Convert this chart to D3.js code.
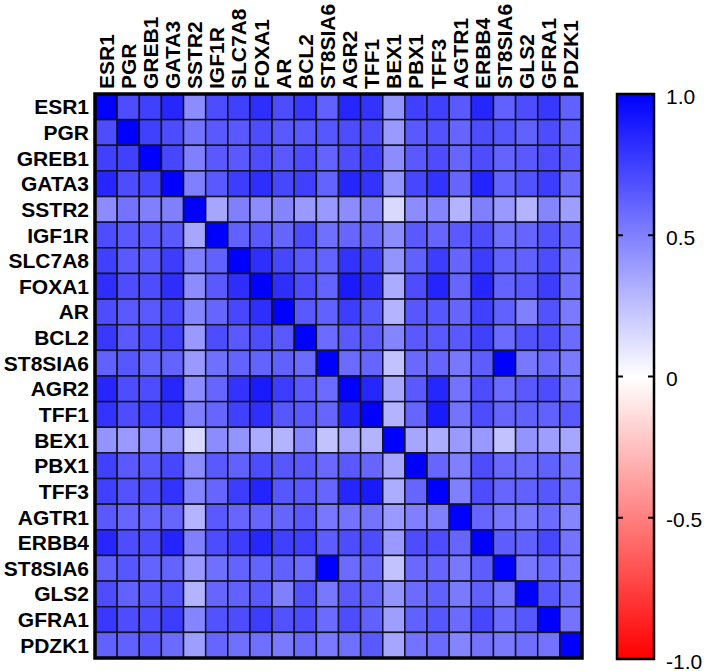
<!DOCTYPE html>
<html>
<head>
<meta charset="utf-8">
<script src="https://cdn.jsdelivr.net/npm/d3@7"></script>
<style>
  html, body { margin: 0; padding: 0; background: #fff; }
  svg { display: block; }
  text { font-family: "Liberation Sans", Arial, sans-serif; fill: #000; }
</style>
</head>
<body>
<svg id="chart" width="709" height="671"></svg>
<script>
const genes = ["ESR1","PGR","GREB1","GATA3","SSTR2","IGF1R","SLC7A8","FOXA1","AR","BCL2","ST8SIA6","AGR2","TFF1","BEX1","PBX1","TFF3","AGTR1","ERBB4","ST8SIA6","GLS2","GFRA1","PDZK1"];

const values = [
  [1, .70, .75, .85, .45, .70, .75, .82, .70, .78, .62, .85, .80, .42, .75, .75, .65, .85, .62, .70, .78, .62],
  [.70, 1, .75, .70, .55, .65, .65, .70, .65, .65, .66, .70, .70, .40, .65, .68, .60, .70, .66, .62, .70, .62],
  [.75, .75, 1, .72, .50, .65, .65, .70, .65, .70, .61, .70, .75, .45, .65, .70, .60, .70, .61, .65, .70, .65],
  [.85, .70, .72, 1, .50, .65, .76, .82, .72, .75, .61, .85, .80, .42, .72, .80, .60, .86, .61, .68, .76, .58],
  [.45, .55, .50, .50, 1, .35, .50, .45, .48, .40, .40, .45, .50, .15, .45, .48, .30, .50, .40, .30, .48, .38],
  [.70, .65, .65, .65, .35, 1, .62, .65, .60, .70, .56, .60, .60, .45, .65, .60, .65, .70, .56, .60, .68, .60],
  [.75, .65, .65, .76, .50, .62, 1, .82, .72, .65, .61, .80, .75, .42, .62, .76, .60, .76, .61, .62, .70, .56],
  [.82, .70, .70, .82, .45, .65, .82, 1, .82, .70, .61, .90, .82, .33, .70, .86, .60, .85, .61, .65, .76, .56],
  [.70, .65, .65, .72, .48, .60, .72, .82, 1, .65, .62, .76, .66, .30, .66, .66, .60, .75, .62, .50, .68, .52],
  [.78, .65, .70, .75, .40, .70, .65, .70, .65, 1, .58, .65, .65, .48, .65, .65, .65, .75, .58, .68, .70, .58],
  [.62, .66, .61, .61, .40, .56, .61, .61, .62, .58, 1, .58, .60, .24, .59, .60, .53, .63, 1, .53, .58, .52],
  [.85, .70, .70, .85, .45, .60, .80, .90, .76, .65, .58, 1, .85, .35, .65, .85, .55, .70, .58, .65, .70, .56],
  [.80, .70, .75, .80, .50, .60, .75, .82, .66, .65, .60, .85, 1, .30, .60, .90, .55, .70, .60, .62, .62, .65],
  [.42, .40, .45, .42, .15, .45, .42, .33, .30, .48, .24, .35, .30, 1, .35, .32, .40, .40, .24, .42, .38, .35],
  [.75, .65, .65, .72, .45, .65, .62, .70, .66, .65, .59, .65, .60, .35, 1, .60, .50, .70, .59, .58, .62, .55],
  [.75, .68, .70, .80, .48, .60, .76, .86, .66, .65, .60, .85, .90, .32, .60, 1, .50, .70, .60, .62, .66, .58],
  [.65, .60, .60, .60, .30, .65, .60, .60, .60, .65, .53, .55, .55, .40, .50, .50, 1, .60, .53, .52, .58, .48],
  [.85, .70, .70, .86, .50, .70, .76, .85, .75, .75, .63, .70, .70, .40, .70, .70, .60, 1, .63, .62, .72, .55],
  [.62, .66, .61, .61, .40, .56, .61, .61, .62, .58, 1, .58, .60, .24, .59, .60, .53, .63, 1, .53, .58, .52],
  [.70, .62, .65, .68, .30, .60, .62, .65, .50, .68, .53, .65, .62, .42, .58, .62, .52, .62, .53, 1, .66, .57],
  [.78, .70, .70, .76, .48, .68, .70, .76, .68, .70, .58, .70, .62, .38, .62, .66, .58, .72, .58, .66, 1, .55],
  [.62, .62, .65, .58, .38, .60, .56, .56, .52, .58, .52, .56, .65, .35, .55, .58, .48, .55, .52, .57, .55, 1]
];

const colorStops = [-1, 0, 1];
const colorRange = ["#ff0000", "#ffffff", "#0000ff"];
const legendTicks = [1, 0.5, 0, -0.5, -1];
const legendTickLabels = ["1.0", "0.5", "0", "-0.5", "-1.0"];

const svg = d3.select("#chart");
const grid = { x0: 95, x1: 582, y0: 94, y1: 658 };
const idx = d3.range(genes.length);

const x = d3.scaleBand().domain(idx).range([grid.x0, grid.x1]).padding(0);
const y = d3.scaleBand().domain(idx).range([grid.y0, grid.y1]).padding(0);
const color = d3.scaleLinear().domain(colorStops).range(colorRange).interpolate(d3.interpolateRgb).clamp(true);

const cells = [];
values.forEach((row, i) => row.forEach((v, j) => cells.push({ i, j, v })));

svg.append("g").selectAll("rect").data(cells).join("rect")
  .attr("x", d => x(d.j))
  .attr("y", d => y(d.i))
  .attr("width", x.bandwidth())
  .attr("height", y.bandwidth())
  .attr("fill", d => color(d.v))
  .attr("stroke", "#141428")
  .attr("stroke-width", 1.5);

svg.append("rect")
  .attr("x", grid.x0).attr("y", grid.y0)
  .attr("width", grid.x1 - grid.x0).attr("height", grid.y1 - grid.y0)
  .attr("fill", "none").attr("stroke", "#000").attr("stroke-width", 3.5);

// Row labels
svg.append("g").selectAll("text").data(idx).join("text")
  .attr("x", grid.x0 - 6)
  .attr("y", i => y(i) + y.bandwidth() / 2)
  .attr("text-anchor", "end")
  .attr("dominant-baseline", "central")
  .attr("font-size", 21)
  .attr("font-weight", "bold")
  .text(i => genes[i]);

// Column labels
svg.append("g").selectAll("text").data(idx).join("text")
  .attr("transform", i => `translate(${x(i) + x.bandwidth() / 2},${grid.y0 - 5}) rotate(-90)`)
  .attr("text-anchor", "start")
  .attr("dominant-baseline", "central")
  .attr("font-size", 21)
  .attr("font-weight", "bold")
  .text(i => genes[i]);

// Color legend
const lg = { x0: 617, x1: 654, y0: 94, y1: 659 };
const ly = d3.scaleLinear().domain([-1, 1]).range([lg.y1, lg.y0]);
const defs = svg.append("defs");
const grad = defs.append("linearGradient").attr("id", "lgrad")
  .attr("x1", 0).attr("y1", 1).attr("x2", 0).attr("y2", 0);
d3.range(0, 1.0001, 0.05).forEach(t => {
  const v = -1 + 2 * t;
  grad.append("stop").attr("offset", t).attr("stop-color", color(v));
});
svg.append("rect")
  .attr("x", lg.x0).attr("y", lg.y0)
  .attr("width", lg.x1 - lg.x0).attr("height", lg.y1 - lg.y0)
  .attr("fill", "url(#lgrad)")
  .attr("stroke", "#000").attr("stroke-width", 2.5);

const tickG = svg.append("g");
legendTicks.filter(t => t !== 1 && t !== -1).forEach(t => {
  tickG.append("line").attr("x1", lg.x0).attr("x2", lg.x0 + 6)
    .attr("y1", ly(t)).attr("y2", ly(t)).attr("stroke", "#000").attr("stroke-width", 2);
  tickG.append("line").attr("x1", lg.x1 - 6).attr("x2", lg.x1)
    .attr("y1", ly(t)).attr("y2", ly(t)).attr("stroke", "#000").attr("stroke-width", 2);
});
svg.append("g").selectAll("text").data(legendTicks).join("text")
  .attr("x", 666)
  .attr("y", t => ly(t) + 2)
  .attr("dominant-baseline", "central")
  .attr("font-size", 21)
  .text((t, k) => legendTickLabels[k]);
</script>
</body>
</html>
